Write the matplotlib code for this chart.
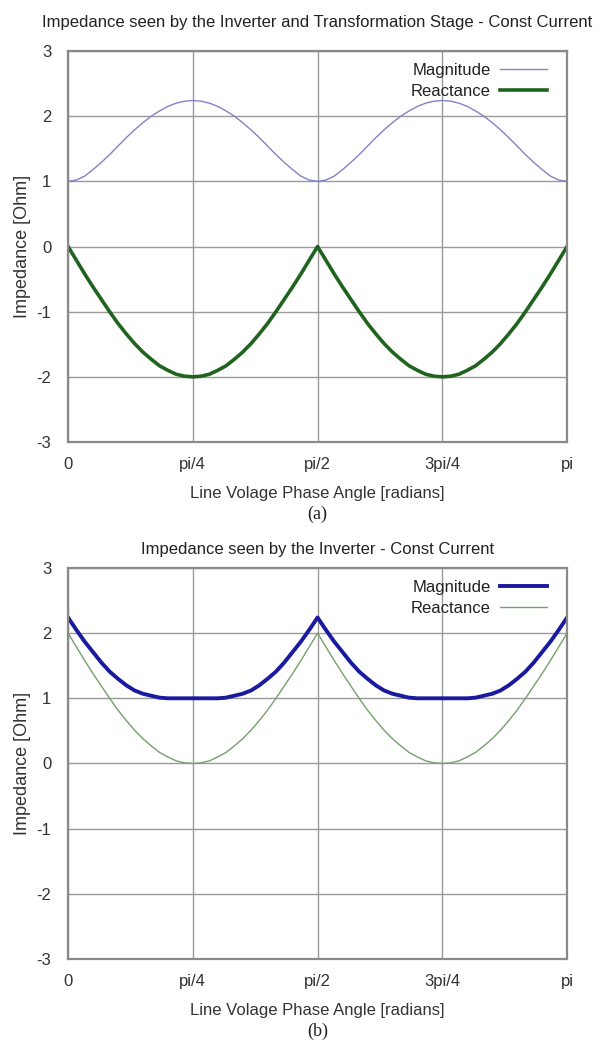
import numpy as np
import matplotlib
matplotlib.use('Agg')
import matplotlib.pyplot as plt

plt.rcParams['font.family'] = ['Liberation Sans', 'DejaVu Sans']
plt.rcParams['font.size'] = 12
plt.rcParams['axes.unicode_minus'] = False

# sample points along the phase angle, degrees (0 .. 180, every 3 deg)
phase_deg = [0, 3, 6, 9, 12, 15, 18, 21, 24, 27, 30, 33, 36, 39, 42,
             45, 48, 51, 54, 57, 60, 63, 66, 69, 72, 75, 78, 81, 84, 87,
             90, 93, 96, 99, 102, 105, 108, 111, 114, 117, 120, 123, 126, 129, 132,
             135, 138, 141, 144, 147, 150, 153, 156, 159, 162, 165, 168, 171, 174, 177,
             180]

# (a) inverter + transformation stage
mag_a = [1.00, 1.02, 1.08, 1.18, 1.29, 1.41, 1.54, 1.67, 1.79, 1.90, 2.00, 2.08, 2.15, 2.20, 2.23,
         2.24, 2.23, 2.20, 2.15, 2.08, 2.00, 1.90, 1.79, 1.67, 1.54, 1.41, 1.29, 1.18, 1.08, 1.02,
         1.00, 1.02, 1.08, 1.18, 1.29, 1.41, 1.54, 1.67, 1.79, 1.90, 2.00, 2.08, 2.15, 2.20, 2.23,
         2.24, 2.23, 2.20, 2.15, 2.08, 2.00, 1.90, 1.79, 1.67, 1.54, 1.41, 1.29, 1.18, 1.08, 1.02,
         1.00]
react_a = [0.00, -0.21, -0.42, -0.62, -0.81, -1.00, -1.18, -1.34, -1.49, -1.62, -1.73, -1.83, -1.90, -1.96, -1.99,
           -2.00, -1.99, -1.96, -1.90, -1.83, -1.73, -1.62, -1.49, -1.34, -1.18, -1.00, -0.81, -0.62, -0.42, -0.21,
           0.00, -0.21, -0.42, -0.62, -0.81, -1.00, -1.18, -1.34, -1.49, -1.62, -1.73, -1.83, -1.90, -1.96, -1.99,
           -2.00, -1.99, -1.96, -1.90, -1.83, -1.73, -1.62, -1.49, -1.34, -1.18, -1.00, -0.81, -0.62, -0.42, -0.21,
           0.00]

# (b) inverter only
mag_b = [2.24, 2.05, 1.87, 1.71, 1.55, 1.41, 1.30, 1.20, 1.12, 1.07, 1.04, 1.01, 1.00, 1.00, 1.00,
         1.00, 1.00, 1.00, 1.00, 1.01, 1.04, 1.07, 1.12, 1.20, 1.30, 1.41, 1.55, 1.71, 1.87, 2.05,
         2.24, 2.05, 1.87, 1.71, 1.55, 1.41, 1.30, 1.20, 1.12, 1.07, 1.04, 1.01, 1.00, 1.00, 1.00,
         1.00, 1.00, 1.00, 1.00, 1.01, 1.04, 1.07, 1.12, 1.20, 1.30, 1.41, 1.55, 1.71, 1.87, 2.05,
         2.24]
react_b = [2.00, 1.79, 1.58, 1.38, 1.19, 1.00, 0.82, 0.66, 0.51, 0.38, 0.27, 0.17, 0.10, 0.04, 0.01,
           0.00, 0.01, 0.04, 0.10, 0.17, 0.27, 0.38, 0.51, 0.66, 0.82, 1.00, 1.19, 1.38, 1.58, 1.79,
           2.00, 1.79, 1.58, 1.38, 1.19, 1.00, 0.82, 0.66, 0.51, 0.38, 0.27, 0.17, 0.10, 0.04, 0.01,
           0.00, 0.01, 0.04, 0.10, 0.17, 0.27, 0.38, 0.51, 0.66, 0.82, 1.00, 1.19, 1.38, 1.58, 1.79,
           2.00]

xtick_labels = ['0', 'pi/4', 'pi/2', '3pi/4', 'pi']
yticks = [-3, -2, -1, 0, 1, 2, 3]

x = np.deg2rad(phase_deg)
xticks = np.deg2rad([0, 45, 90, 135, 180])


def style_axes(ax, title, title_pad, tag):
    ax.set_xlim(0, np.pi)
    ax.set_ylim(-3, 3)
    ax.set_xticks(xticks)
    ax.set_xticklabels(xtick_labels)
    ax.set_yticks(yticks)
    ax.tick_params(length=0, colors='#333333', labelsize=12)
    ax.tick_params(axis='x', pad=11)
    ax.tick_params(axis='y', pad=12)
    ax.grid(True, color='#9a9a9a', linewidth=1.0)
    for s in ax.spines.values():
        s.set_color('#8a8a8a')
        s.set_linewidth(1.6)
    ax.set_title(title, fontsize=12, color='#222222', pad=title_pad)
    ax.set_ylabel('Impedance [Ohm]', fontsize=13, color='#333333', labelpad=4)
    ax.set_xlabel('Line Volage Phase Angle [radians]', fontsize=12,
                  color='#333333', labelpad=10)
    ax.text(0.5, -0.186, tag, transform=ax.transAxes, ha='center', va='center',
            fontsize=13, family=['Liberation Serif', 'DejaVu Serif'], color='#222222')
    leg = ax.legend(loc='upper right', bbox_to_anchor=(1 - 20 / 499, 1 - 12 / 391),
                    frameon=False, markerfirst=False, handlelength=2.8,
                    handletextpad=0.6, labelspacing=0.35, borderpad=0,
                    borderaxespad=0, fontsize=12)
    for t in leg.get_texts():
        t.set_color('#222222')


fig = plt.figure(figsize=(6.02, 10.41), dpi=100)

ax1 = fig.add_axes([0.113, 0.5754, 0.829, 0.3756])
ax1.plot(x, mag_a, color='#8282c8', linewidth=1.0, label='Magnitude')
ax1.plot(x, react_a, color='#1f631f', linewidth=2.6, label='Reactance')
style_axes(ax1, 'Impedance seen by the Inverter and Transformation Stage - Const Current', 17, '(a)')

ax2 = fig.add_axes([0.113, 0.0788, 0.829, 0.3756])
ax2.plot(x, mag_b, color='#1a1aa0', linewidth=2.8, label='Magnitude')
ax2.plot(x, react_b, color='#74a06c', linewidth=1.0, label='Reactance')
style_axes(ax2, 'Impedance seen by the Inverter - Const Current', 10, '(b)')

fig.savefig('out.png', dpi=100)
